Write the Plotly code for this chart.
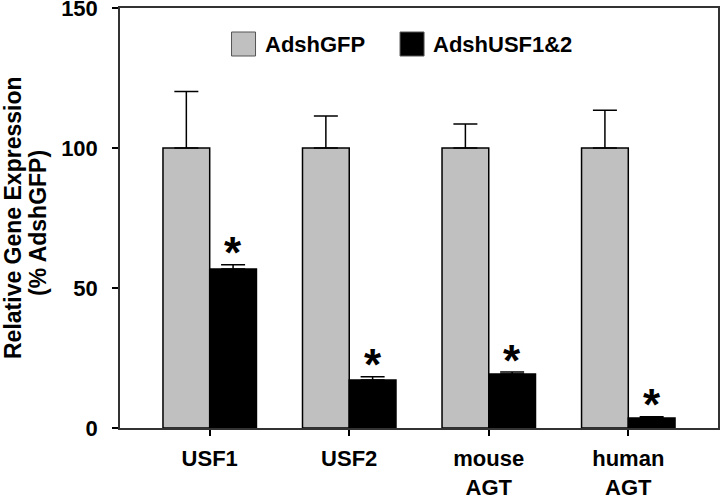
import plotly.graph_objects as go

categories = ["USF1", "USF2", "mouse<br>AGT", "human<br>AGT"]
gfp_values = [100, 100, 100, 100]
gfp_err = [20.2, 11.4, 8.6, 13.5]
usf_values = [56.8, 17.1, 19.3, 3.6]
usf_err = [1.5, 1.2, 0.7, 0.4]
y_ticks = [0, 50, 100, 150]

FONT = "Liberation Sans, Arial, sans-serif"
xpos = list(range(len(categories)))

fig = go.Figure()
fig.add_trace(go.Bar(
    x=xpos, y=gfp_values, name="AdshGFP",
    marker=dict(color="#C0C0C0", line=dict(color="#000000", width=1.5)),
    error_y=dict(type="data", array=gfp_err, arrayminus=[0]*4, symmetric=False,
                 color="#000000", thickness=1.5, width=12),
    showlegend=False,
))
fig.add_trace(go.Bar(
    x=xpos, y=usf_values, name="AdshUSF1&2",
    marker=dict(color="#000000", line=dict(color="#000000", width=1.5)),
    error_y=dict(type="data", array=usf_err, arrayminus=[0]*4, symmetric=False,
                 color="#000000", thickness=1.5, width=12),
    showlegend=False,
))

# significance asterisks
for i, (v, e) in enumerate(zip(usf_values, usf_err)):
    fig.add_annotation(x=i, y=v + e, xref="x", yref="y", text="<b>*</b>",
                       showarrow=False, xshift=23.5, yshift=12,
                       yanchor="middle", xanchor="center",
                       font=dict(family=FONT, size=44, color="#000000"))

# manual legend
legend_items = [("AdshGFP", "#C0C0C0", 0.1865), ("AdshUSF1&2", "#000000", 0.4683)]
for label, color, x0 in legend_items:
    fig.add_shape(type="rect", xref="paper", yref="paper",
                  x0=x0, x1=x0 + 24 / 598, y0=1 - 48 / 420, y1=1 - 24 / 420,
                  fillcolor=color, line=dict(color="#555555", width=1))
    fig.add_annotation(xref="paper", yref="paper", x=x0 + 31 / 598, y=1 - 36 / 420,
                       text="<b>" + label + "</b>", showarrow=False,
                       xanchor="left", yanchor="middle",
                       font=dict(family=FONT, size=22, color="#000000"))

# y axis title (two lines, tight spacing)
title_lines = ["Relative Gene Expression", "(% AdshGFP)"]
for line, xs, ys in zip(title_lines, [-107, -82], [0, -5]):
    fig.add_annotation(xref="paper", yref="paper", x=0, y=0.5, xshift=xs, yshift=ys,
                       text="<b>" + line + "</b>",
                       textangle=-90, showarrow=False, xanchor="center", yanchor="middle",
                       font=dict(family=FONT, size=23, color="#000000"))

fig.update_layout(
    width=721, height=496,
    margin=dict(l=120, r=3, t=8, b=68),
    paper_bgcolor="white", plot_bgcolor="white",
    barmode="group", bargap=0.33, bargroupgap=0,
    font=dict(family=FONT, color="#000000"),
)
fig.update_xaxes(
    range=[-0.643, 3.643], tickmode="array", tickvals=xpos,
    ticktext=["<b>" + c + "</b>" for c in categories],
    ticks="outside", ticklen=6, tickwidth=1.5, tickcolor="#000000",
    showline=True, linecolor="#333333", linewidth=1.5, mirror=True,
    showgrid=False, zeroline=False, automargin=False,
    tickfont=dict(family=FONT, size=22, color="#000000"),
    ticklabelstandoff=4, ticklabeloverflow="allow",
)
fig.update_yaxes(
    range=[0, 150], tickmode="array", tickvals=y_ticks,
    ticktext=["<b>%d</b>" % t for t in y_ticks],
    ticks="outside", ticklen=6, tickwidth=1.5, tickcolor="#000000",
    showline=True, linecolor="#333333", linewidth=1.5, mirror=True,
    showgrid=False, zeroline=False, automargin=False,
    tickfont=dict(family=FONT, size=22, color="#000000"),
    ticklabelstandoff=10, ticklabeloverflow="allow",
)

fig.write_html("out.html", config={"displayModeBar": False},
               post_script="document.body.style.margin='0';document.body.style.overflow='hidden';")
